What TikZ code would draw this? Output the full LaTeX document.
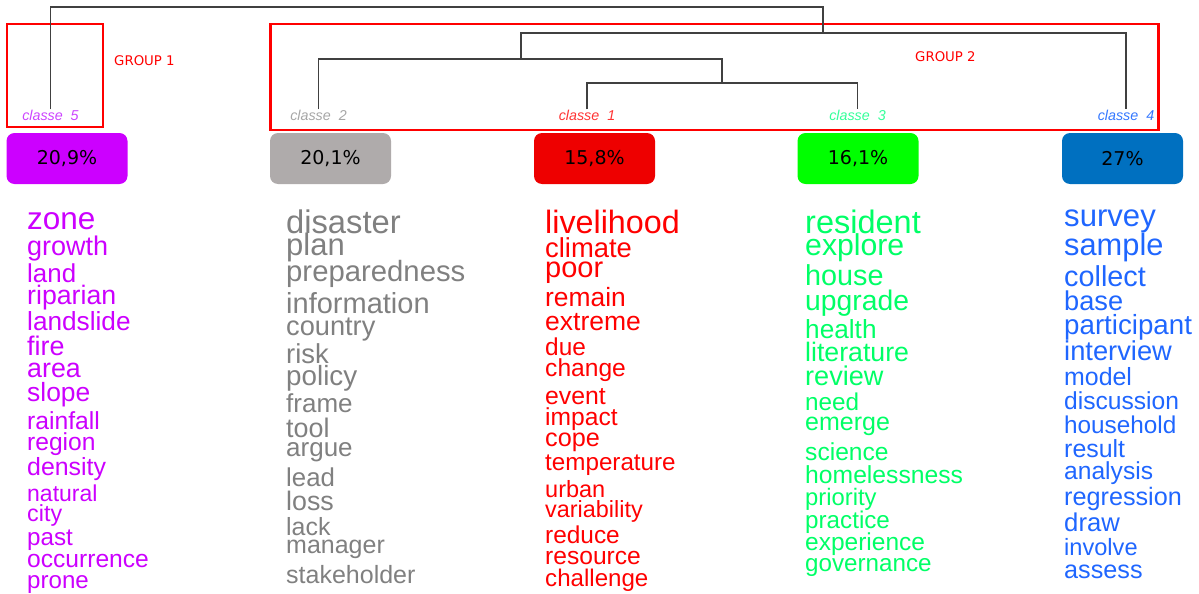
\documentclass[tikz,border=0pt]{standalone}
\usepackage{fontspec}
\setmainfont{Liberation Sans}
\newfontfamily\verd{DejaVu Sans}
\definecolor{boxP}{HTML}{CC00FF}
\definecolor{boxG}{HTML}{AFABAB}
\definecolor{boxR}{HTML}{EE0000}
\definecolor{boxV}{HTML}{00FF00}
\definecolor{boxB}{HTML}{0070C0}
\definecolor{wP}{HTML}{CC00FF}
\definecolor{wG}{HTML}{808080}
\definecolor{wR}{HTML}{FF0000}
\definecolor{wV}{HTML}{00FF66}
\definecolor{wB}{HTML}{1F66FF}
\definecolor{cP}{HTML}{CC44FF}
\definecolor{cG}{HTML}{A6A6A6}
\definecolor{cR}{HTML}{FF3333}
\definecolor{cV}{HTML}{33FF99}
\definecolor{cB}{HTML}{3377FF}
\definecolor{grpred}{HTML}{FF0000}
\begin{document}
\begin{tikzpicture}[x=1pt,y=-1pt,
  dendro/.style={draw=black!75, line width=1.3pt},
  groupbox/.style={draw=grpred, line width=2.4pt, inner sep=0pt},
  pctbox/.style={rounded corners=8pt, minimum width=121pt, minimum height=51pt, inner sep=0pt, font=\verd\fontsize{19}{19}\selectfont, text=black},
  cls/.style={font=\itshape\fontsize{14.3}{14.3}\selectfont, inner sep=0pt, anchor=base},
  grp/.style={font=\verd\fontsize{13.3}{13.3}\selectfont, text=grpred, inner sep=0pt, anchor=base west},
  word/.style={inner sep=0pt, anchor=base west}]
\useasboundingbox (0,0) rectangle (1199,594);

% group boxes
\node[groupbox, minimum width=96pt, minimum height=103pt] (g1) at (55,75.5) {};
\node[groupbox, minimum width=888pt, minimum height=106pt] (g2) at (714.5,77) {};
\node[grp] (g1t) at (114,65.5) {GROUP 1};
\node[grp] (g2t) at (915,62) {GROUP 2};

% class labels
\node[cls, text=cP] (c5) at (50.5,120) {classe\ \ 5};
\node[cls, text=cG] (c2) at (318.5,120) {classe\ \ 2};
\node[cls, text=cR] (c1) at (587,120) {classe\ \ 1};
\node[cls, text=cV] (c3) at (857.5,120) {classe\ \ 3};
\node[cls, text=cB] (c4) at (1126,120) {classe\ \ 4};

% dendrogram
\coordinate (b13) at (722,83);
\coordinate (b213) at (521,59);
\coordinate (b2134) at (823,33);
\coordinate (root) at (436,7);
\draw[dendro] (c1.north) |- (b13) -| (c3.north);
\draw[dendro] (c2.north) |- (b213) -| (b13);
\draw[dendro] (b213) |- (b2134) -| (c4.north);
\draw[dendro] (c5.north) |- (root) -| (b2134);

% percent boxes
\node[pctbox, fill=boxP] (p5) at (67,158.5) {20,9\%};
\node[pctbox, fill=boxG] (p2) at (330.5,158.5) {20,1\%};
\node[pctbox, fill=boxR] (p1) at (594.5,158.5) {15,8\%};
\node[pctbox, fill=boxV] (p3) at (858,158.5) {16,1\%};
\node[pctbox, fill=boxB] (p4) at (1122.5,158.5) {27\%};

% word columns
\foreach \s/\y/\t [count=\i] in {31.5/229.3/zone, 27/255/growth, 25.9/282.7/land, 26.7/304/riparian, 26.2/330.7/landslide, 26.9/355.7/fire, 26.8/377.3/area, 26.4/401.7/slope, 24.7/429.3/rainfall, 24.6/450.7/region, 24.9/475/density, 23/501/natural, 23.3/521.7/city, 24.2/545/past, 24.6/567.7/occurrence, 24.1/588.3/prone}
  \node[word, text=wP, font=\fontsize{\s}{\s}\selectfont] (w5-\i) at (27,\y) {\t};

\foreach \s/\y/\t [count=\i] in {32.7/233/disaster, 31/255/plan, 29.3/281.5/preparedness, 29/313/information, 27.2/335/country, 27.4/363/risk, 27.8/385/policy, 26/412/frame, 26.9/437/tool, 26/456/argue, 25.8/486/lead, 26.8/510/loss, 24.9/535/lack, 25/553/manager, 25/583/stakeholder}
  \node[word, text=wG, font=\fontsize{\s}{\s}\selectfont] (w2-\i) at (286,\y) {\t};

\foreach \s/\y/\t [count=\i] in {32.3/233.3/livelihood, 27.4/257.3/climate, 29/277.3/poor, 26.4/306.7/remain, 26.5/330.7/extreme, 24.4/355/due, 24.6/376.7/change, 24.8/404/event, 24.6/425/impact, 25.2/446/cope, 24.2/470.7/temperature, 23.5/497.3/urban, 23.4/517.3/variability, 24.4/543.3/reduce, 24.6/564.3/resource, 24.1/586.7/challenge}
  \node[word, text=wR, font=\fontsize{\s}{\s}\selectfont] (w1-\i) at (545,\y) {\t};

\foreach \s/\y/\t [count=\i] in {32.5/233.3/resident, 30.2/255/explore, 28.8/285/house, 28.3/310/upgrade, 26.2/338.3/health, 26.7/361.7/literature, 27.1/385.7/review, 24.3/410.7/need, 25/430/emerge, 24.6/460/science, 24.7/483.3/homelessness, 23.8/505/priority, 24.2/528.3/practice, 24.5/550/experience, 24.2/571.7/governance}
  \node[word, text=wV, font=\fontsize{\s}{\s}\selectfont] (w3-\i) at (805,\y) {\t};

\foreach \s/\y/\t [count=\i] in {31.1/226.7/survey, 30.8/255.7/sample, 28.8/286.7/collect, 27.2/310.7/base, 27.7/334/participant, 27.3/360/interview, 24.9/385/model, 24.6/409.3/discussion, 24.3/433.3/household, 24.9/457.7/result, 24.6/479.3/analysis, 25.2/505/regression, 25.7/531/draw, 23.6/555/involve, 25.2/578.3/assess}
  \node[word, text=wB, font=\fontsize{\s}{\s}\selectfont] (w4-\i) at (1064,\y) {\t};
\end{tikzpicture}
\end{document}
